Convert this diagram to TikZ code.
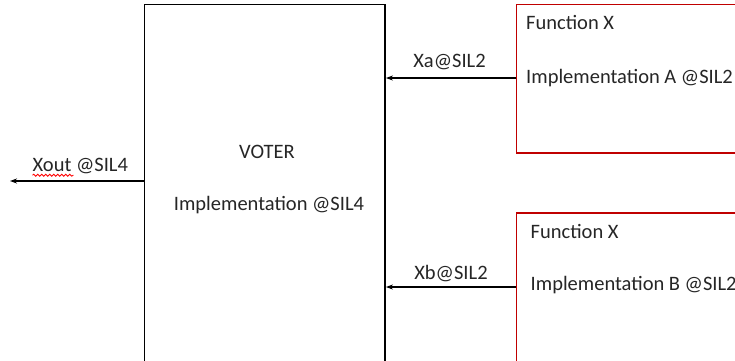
\documentclass[tikz,border=0pt]{standalone}
\usepackage{fontspec}
\setmainfont{Carlito}
\usetikzlibrary{arrows.meta,decorations.pathmorphing}
\definecolor{txt}{HTML}{262626}
\definecolor{boxred}{HTML}{C00000}
\tikzset{
  blockbox/.style={draw=black,line width=1.8pt,fill=white,inner sep=0pt},
  redbox/.style={draw=boxred,line width=1.8pt,fill=white,inner sep=0pt},
  label/.style={inner sep=0pt,text=txt,font=\fontsize{20.5}{24}\selectfont},
  arr/.style={draw=black,line width=1.6pt,-{Stealth[length=7pt,width=5pt]}},
  squiggle/.style={draw=red,line width=0.8pt,decorate,decoration={snake,amplitude=1pt,segment length=4pt}}
}
\begin{document}
\begin{tikzpicture}[x=1pt,y=-1pt]
  \useasboundingbox (0,0) rectangle (735,360);
  \clip (0,0) rectangle (735,360);

  % voter block and the two function blocks
  \node[blockbox,minimum width=240.5pt,minimum height=365.5pt] (voter) at (264.75,187.25) {};
  \node[redbox,minimum width=243.5pt,minimum height=148.5pt] (fa) at (638.25,78.75) {};
  \node[redbox,minimum width=243.5pt,minimum height=167pt] (fb) at (638.25,296.5) {};

  % texts of the voter block
  \node[label,anchor=base] (vtitle) at (267,158) {VOTER};
  \node[label,anchor=base] (vimpl) at (269,210.7) {Implementation @SIL4};

  % texts of the function blocks
  \node[label,anchor=base west] (fatitle) at (526,29) {Function X};
  \node[label,anchor=base west] (faimpl) at (526,83.3) {Implementation A @SIL2};
  \node[label,anchor=base west] (fbtitle) at (530.5,238) {Function X};
  \node[label,anchor=base west] (fbimpl) at (530.5,290) {Implementation B @SIL2};

  % connector heights
  \coordinate (ya) at (0,78);
  \coordinate (yb) at (0,287);
  \coordinate (yout) at (0,181);
  \coordinate (outend) at (10,181);

  % signals into and out of the voter
  \draw[arr] (fa.west |- ya) -- (voter.east |- ya);
  \draw[arr] (fb.west |- yb) -- (voter.east |- yb);
  \draw[arr] (voter.west |- yout) -- (outend);

  % signal labels
  \node[label,anchor=base] (la) at (449.5,67) {Xa@SIL2};
  \node[label,anchor=base] (lb) at (451,279) {Xb@SIL2};
  \node[label,anchor=base west] (lout) at (32.5,171.7) {Xout @SIL4};
  \draw[squiggle] ([yshift=-3.5pt]lout.base west) -- ++(41,0);
\end{tikzpicture}
\end{document}
